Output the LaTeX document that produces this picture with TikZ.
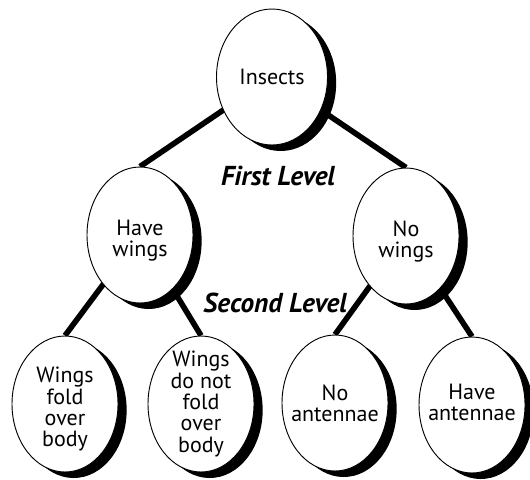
\documentclass[tikz,border=0pt]{standalone}
\usepackage{fontspec}
\setmainfont{PT Sans}
\usetikzlibrary{shapes.geometric,shadows,backgrounds}
\begin{document}
\begin{tikzpicture}[x=0.75pt,y=-0.75pt,
  oval/.style={ellipse, draw=black, line width=0.7pt, fill=white,
    minimum width=79.5pt, minimum height=102pt, inner sep=0pt,
    drop shadow={shadow xshift=6.5pt, shadow yshift=-4.5pt, fill=black, opacity=1}},
  txt/.style={align=center, font=\fontsize{16.5}{16}\selectfont, inner sep=0pt},
  lvl/.style={anchor=base, font=\fontsize{20.5}{22}\selectfont\bfseries\itshape, inner sep=0pt},
  conn/.style={line width=4.2pt}]
\useasboundingbox (0,0) rectangle (530,479);
% ellipses
\node[oval, minimum width=83.25pt] (ins) at (272,77) {};
\node[oval] (hw) at (140,235) {};
\node[oval] (nw) at (406,236) {};
\node[oval] (wf) at (65,404) {};
\node[oval] (wd) at (201,404) {};
\node[oval] (na) at (335,403) {};
\node[oval] (ha) at (472,405) {};
% texts
\node[txt] (ins-t) at (ins) {Insects};
\node[txt] (hw-t) at ([yshift=-4pt]hw.center) {Have\\wings};
\node[txt] (nw-t) at ([yshift=-4pt]nw.center) {No\\wings};
\node[txt] (wf-t) at ([yshift=-4pt]wf.center) {Wings\\fold\\over\\body};
\node[txt] (wd-t) at (wd) {Wings\\do not\\fold\\over\\body};
\node[txt] (na-t) at (na) {No\\antennae};
\node[txt] (ha-t) at ([yshift=2pt]ha.center) {Have\\antennae};
% level labels
\node[lvl] (l1) at (278,185) {First Level};
\node[lvl] (l2) at (275,312) {Second Level};
% connectors
\begin{pgfonlayer}{background}
\draw[conn] (ins.center) -- (hw.north);
\draw[conn] (ins.center) -- (nw.north);
\draw[conn] (hw.center) -- (wf.north);
\draw[conn] (hw.center) -- (wd.north);
\draw[conn] (nw.center) -- (na.north);
\draw[conn] (nw.center) -- (ha.north);
\end{pgfonlayer}
\end{tikzpicture}
\end{document}
